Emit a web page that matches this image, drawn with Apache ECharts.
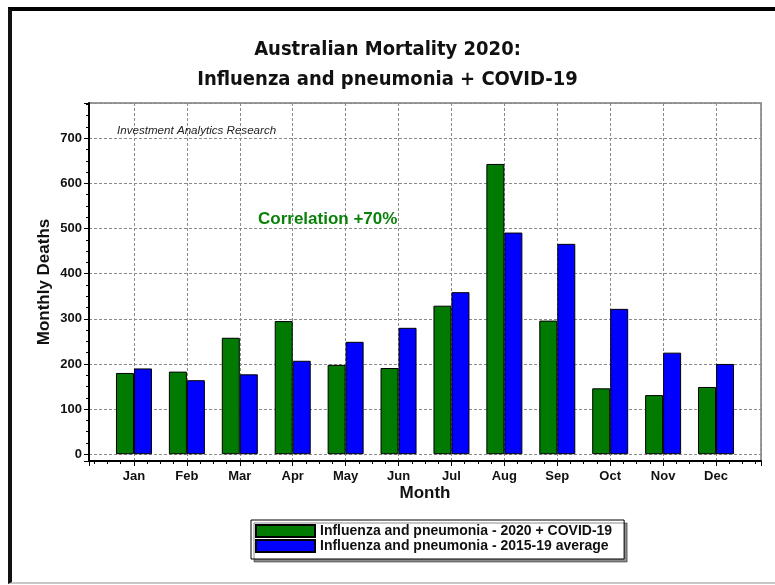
<!DOCTYPE html>
<html>
<head>
<meta charset="utf-8">
<script src="https://cdn.jsdelivr.net/npm/echarts@6/dist/echarts.min.js"></script>
<style>
  html, body { margin: 0; padding: 0; background: #fff; }
  #wrap { position: relative; width: 775px; height: 585px; overflow: hidden; }
  #chart { position: absolute; left: 0; top: 0; width: 775px; height: 585px; }
  #frame {
    position: absolute; left: 8px; top: 7px; right: -10px; bottom: 1px;
    border-top: 4px solid #000; border-left: 4px solid #111; border-bottom: 2px solid #c8c8c8;
    pointer-events: none;
  }
</style>
</head>
<body>
<div id="wrap">
  <div id="chart"></div>
  <div id="frame"></div>
</div>
<script>
// Monthly deaths
const months = ['Jan', 'Feb', 'Mar', 'Apr', 'May', 'Jun', 'Jul', 'Aug', 'Sep', 'Oct', 'Nov', 'Dec'];
const covid2020 = [180, 183, 258, 295, 198, 191, 329, 643, 296, 146, 131, 149];
const avg201519 = [190, 164, 177, 207, 249, 280, 359, 491, 466, 322, 225, 200];
const seriesNames = ['Influenza and pneumonia - 2020 + COVID-19', 'Influenza and pneumonia - 2015-19 average'];

const FONT = '"Liberation Sans", Arial, sans-serif';

const chart = echarts.init(document.getElementById('chart'));

const dashed = { color: '#8a8a8a', width: 1, type: [3, 2] };

chart.setOption({
  backgroundColor: 'transparent',
  animation: false,
  title: [
    {
      text: 'Australian Mortality 2020:\nInfluenza and pneumonia + COVID-19',
      left: 'center', top: 35, padding: 0,
      textStyle: { fontFamily: '"DejaVu Sans Condensed", "DejaVu Sans", sans-serif', fontWeight: 'bold', fontSize: 20, lineHeight: 30, color: '#111' }
    },
    {
      text: 'Investment Analytics Research',
      left: 117, top: 125, padding: 0,
      textStyle: { fontFamily: FONT, fontStyle: 'italic', fontWeight: 'normal', fontSize: 11.6, color: '#222' }
    },
    {
      text: 'Correlation +70%',
      left: 258, top: 211, padding: 0,
      textStyle: { fontFamily: FONT, fontWeight: 'bold', fontSize: 17, color: '#0a820a' }
    }
  ],
  legend: {
    orient: 'vertical',
    left: 251, top: 520,
    padding: [4, 12, 6, 4],
    itemWidth: 59, itemHeight: 12, itemGap: 1,
    backgroundColor: '#fff',
    borderColor: '#000', borderWidth: 1,
    shadowColor: 'rgba(0,0,0,0.45)', shadowOffsetX: 3, shadowOffsetY: 3, shadowBlur: 0,
    textStyle: { fontFamily: FONT, fontWeight: 'bold', fontSize: 14, color: '#111' },
    icon: 'rect',
    data: seriesNames
  },
  grid: {
    left: 89, right: 14, top: 103, bottom: 124,
    show: true, borderColor: '#7a7a7a', borderWidth: 1.5,
    outerBoundsMode: 'none'
  },
  xAxis: {
    type: 'value',
    min: 0.15, max: 12.85, splitNumber: 12,
    name: 'Month', nameLocation: 'middle', nameGap: 24, nameMoveOverlap: false,
    nameTextStyle: { fontFamily: FONT, fontWeight: 'bold', fontSize: 17, color: '#111' },
    axisLine: { show: true, onZero: false, lineStyle: { color: '#000', width: 2 } },
    axisTick: { show: true, inside: false, length: 5, lineStyle: { color: '#000' } },
    minorTick: { show: true, splitNumber: 4, length: 3, lineStyle: { color: '#000' } },
    axisLabel: {
      showMinLabel: false, showMaxLabel: false, margin: 9,
      fontFamily: FONT, fontWeight: 'bold', fontSize: 13, color: '#111',
      formatter: v => (Number.isInteger(v) && v >= 1 && v <= 12) ? months[v - 1] : ''
    },
    splitLine: { show: true, lineStyle: dashed }
  },
  yAxis: {
    type: 'value',
    min: -15, max: 778, splitNumber: 8,
    name: 'Monthly Deaths', nameLocation: 'middle', nameGap: 36, nameRotate: 90, nameMoveOverlap: false,
    nameTextStyle: { fontFamily: FONT, fontWeight: 'bold', fontSize: 17, color: '#111' },
    axisLine: { show: true, onZero: false, lineStyle: { color: '#000', width: 2 } },
    axisTick: { show: true, inside: false, length: 5, lineStyle: { color: '#000' } },
    minorTick: { show: true, splitNumber: 4, length: 3, lineStyle: { color: '#000' } },
    axisLabel: {
      showMinLabel: false, showMaxLabel: false, margin: 7,
      fontFamily: FONT, fontWeight: 'bold', fontSize: 13, color: '#111'
    },
    splitLine: { show: true, lineStyle: dashed }
  },
  series: [
    {
      name: seriesNames[0],
      type: 'bar',
      barWidth: 18, barGap: '0%',
      clip: false,
      itemStyle: { color: '#007a00', borderColor: '#000', borderWidth: 1 },
      data: covid2020.map((v, i) => [i + 1, v])
    },
    {
      name: seriesNames[1],
      type: 'bar',
      barWidth: 18, barGap: '0%',
      clip: false,
      itemStyle: { color: '#0000ff', borderColor: '#000', borderWidth: 1 },
      data: avg201519.map((v, i) => [i + 1, v])
    }
  ]
});
</script>
</body>
</html>
